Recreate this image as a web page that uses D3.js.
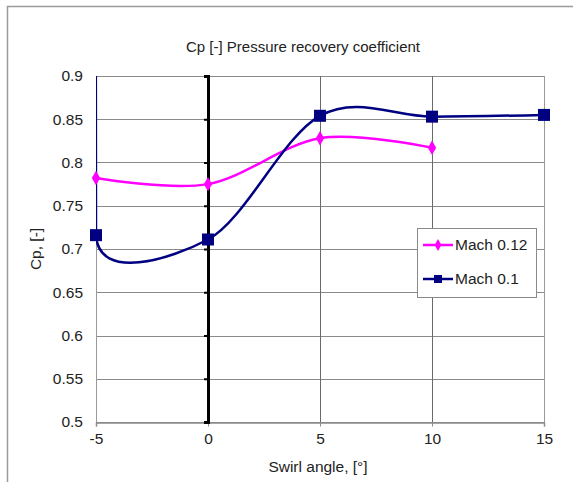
<!DOCTYPE html>
<html>
<head>
<meta charset="utf-8">
<script src="https://cdn.jsdelivr.net/npm/d3@7"></script>
<style>
  html, body { margin: 0; padding: 0; background: #fff; }
  svg { display: block; font-family: "Liberation Sans", Arial, sans-serif; }
</style>
</head>
<body>
<svg id="chart" width="573" height="482"></svg>
<script>
// Swirl angle (degrees) and pressure recovery coefficient per Mach number
const anglesM012 = [-5, 0, 5, 10];
const cpM012 = [0.782, 0.775, 0.828, 0.817];
// The Mach 0.1 run starts with an off-scale reading at -5 deg (above the axis range)
const anglesM010 = [-5, -5, 0, 5, 10, 15];
const cpM010 = [3.0, 0.716, 0.711, 0.854, 0.853, 0.855];
const xTicks = [-5, 0, 5, 10, 15];
const yTicks = [0.5, 0.55, 0.6, 0.65, 0.7, 0.75, 0.8, 0.85, 0.9];
const seriesNames = ["Mach 0.12", "Mach 0.1"];

const svg = d3.select("#chart");
const W = 573, H = 482;
const m = { left: 96, right: 544, top: 76, bottom: 422 };
const FS = 15.5;

// Spreadsheet-style smoothing: Bezier segments whose tangents follow the
// neighbouring points, shortened next to short segments to limit overshoot.
function SmoothCurve(context) { this._context = context; }
SmoothCurve.prototype = {
  areaStart() {}, areaEnd() {},
  lineStart() { this._pts = []; },
  point(x, y) { this._pts.push([+x, +y]); },
  lineEnd() {
    const p = this._pts, n = p.length, c = this._context;
    if (!n) return;
    c.moveTo(p[0][0], p[0][1]);
    if (n === 1) return;
    const dist = (a, b) => Math.hypot(a[0] - b[0], a[1] - b[1]);
    const tan = p.map((pt, i) => {
      if (i === 0 || i === n - 1) return [0, 0];
      const a = p[i - 1], b = p[i + 1];
      const dab = dist(a, b);
      if (dab === 0) return [0, 0];
      const f = Math.min(1 / 6, Math.min(dist(a, pt), dist(pt, b)) / (2.4 * dab));
      return [(b[0] - a[0]) * f, (b[1] - a[1]) * f];
    });
    for (let i = 0; i < n - 1; i++) {
      const a = p[i], b = p[i + 1];
      c.bezierCurveTo(a[0] + tan[i][0], a[1] + tan[i][1],
                      b[0] - tan[i + 1][0], b[1] - tan[i + 1][1], b[0], b[1]);
    }
  }
};
const smoothCurve = ctx => new SmoothCurve(ctx);

// Outer chart frame (only left and top edges fall inside the window)
svg.append("rect").attr("x", 7.5).attr("y", 6.5).attr("width", W).attr("height", H)
  .attr("fill", "#fff").attr("stroke", "#9a9a9a").attr("stroke-width", 1.5);

const x = d3.scaleLinear().domain([-5, 15]).range([m.left, m.right]);
const y = d3.scaleLinear().domain([0.5, 0.9]).range([m.bottom, m.top]);

svg.append("clipPath").attr("id", "plot-clip").append("rect")
  .attr("x", m.left).attr("y", m.top).attr("width", m.right - m.left).attr("height", m.bottom - m.top);

// Gridlines
const grid = svg.append("g");
grid.selectAll(".hg").data(yTicks).join("line")
  .attr("x1", m.left).attr("x2", m.right)
  .attr("y1", d => Math.round(y(d)) + 0.5).attr("y2", d => Math.round(y(d)) + 0.5)
  .attr("stroke", "#8a8a8a").attr("stroke-width", 1);
grid.selectAll(".vg").data(xTicks.filter(d => d !== 0)).join("line")
  .attr("y1", m.top).attr("y2", m.bottom)
  .attr("x1", d => Math.round(x(d)) + 0.5).attr("x2", d => Math.round(x(d)) + 0.5)
  .attr("stroke", d => (d === 15 || d === -5 ? "#9a9a9a" : "#6a6a6a")).attr("stroke-width", 1);

// X axis along the bottom
const xAxis = svg.append("g").attr("transform", `translate(0,${m.bottom + 0.5})`)
  .call(d3.axisBottom(x).tickValues(xTicks).tickSize(4).tickPadding(6).tickFormat(d => String(d)));
xAxis.select(".domain").attr("stroke", "#8a8a8a").attr("stroke-width", 1.5);
xAxis.selectAll(".tick line").attr("stroke", "#8a8a8a");
xAxis.selectAll(".tick text").attr("font-size", FS).attr("fill", "#222")
  .attr("font-family", "Liberation Sans, Arial, sans-serif");

// Value axis crossing at zero swirl
const yAxis = svg.append("g").attr("transform", `translate(${x(0)},0)`)
  .call(d3.axisLeft(y).tickValues(yTicks).tickSize(4).tickFormat(() => ""));
yAxis.select(".domain").attr("stroke", "#000").attr("stroke-width", 3);
yAxis.selectAll(".tick line").attr("stroke", "#000").attr("stroke-width", 2);

// Tick labels on the left side of the plot
svg.append("g").selectAll("text").data(yTicks).join("text")
  .attr("x", 83).attr("y", d => y(d)).attr("dy", "0.35em")
  .attr("text-anchor", "end").attr("font-size", FS).attr("fill", "#222")
  .text(d => String(d));

// Titles
svg.append("text").attr("x", 303).attr("y", 52).attr("text-anchor", "middle")
  .attr("font-size", 15).attr("fill", "#222").text("Cp [-] Pressure recovery coefficient");
svg.append("text").attr("x", 318).attr("y", 472).attr("text-anchor", "middle")
  .attr("font-size", FS).attr("fill", "#222").text("Swirl angle, [°]");
svg.append("text").attr("transform", "translate(41,249) rotate(-90)")
  .attr("text-anchor", "middle").attr("font-size", FS).attr("fill", "#222").text("Cp, [-]");

// Smoothed series lines, clipped to the plot area
const line = d3.line().x(d => x(d[0])).y(d => y(d[1])).curve(smoothCurve);
const dataM012 = anglesM012.map((a, i) => [a, cpM012[i]]);
const dataM010 = anglesM010.map((a, i) => [a, cpM010[i]]);
const magenta = "#ff00ff", navy = "#000080";
const inRange = d => d[1] >= 0.5 && d[1] <= 0.9;

const lines = svg.append("g").attr("clip-path", "url(#plot-clip)");
lines.append("path").datum(dataM012).attr("d", line)
  .attr("fill", "none").attr("stroke", magenta).attr("stroke-width", 2.5);
lines.append("path").datum(dataM010).attr("d", line)
  .attr("fill", "none").attr("stroke", navy).attr("stroke-width", 2.5);

const diamond = d3.symbol().type(d3.symbolDiamond).size(60);
svg.append("g").selectAll("path").data(dataM012.filter(inRange)).join("path")
  .attr("transform", d => `translate(${x(d[0])},${y(d[1])})`)
  .attr("d", diamond).attr("fill", magenta);
svg.append("g").selectAll("rect").data(dataM010.filter(inRange)).join("rect")
  .attr("x", d => x(d[0]) - 6).attr("y", d => y(d[1]) - 6)
  .attr("width", 12).attr("height", 12).attr("fill", navy);

// Legend
const lg = svg.append("g").attr("transform", "translate(417,228)");
lg.append("rect").attr("x", 0.5).attr("y", 0.5).attr("width", 119).attr("height", 69)
  .attr("fill", "#fff").attr("stroke", "#8a8a8a");
const entries = [
  { name: seriesNames[0], color: magenta, marker: "diamond", yy: 17 },
  { name: seriesNames[1], color: navy, marker: "square", yy: 51 }
];
entries.forEach(e => {
  lg.append("line").attr("x1", 6).attr("x2", 36).attr("y1", e.yy).attr("y2", e.yy)
    .attr("stroke", e.color).attr("stroke-width", 2.5);
  if (e.marker === "diamond") {
    lg.append("path").attr("transform", `translate(21,${e.yy})`)
      .attr("d", d3.symbol().type(d3.symbolDiamond).size(40)).attr("fill", e.color);
  } else {
    lg.append("rect").attr("x", 17).attr("y", e.yy - 4).attr("width", 8).attr("height", 8)
      .attr("fill", e.color);
  }
  lg.append("text").attr("x", 38).attr("y", e.yy).attr("dy", "0.35em")
    .attr("font-size", FS).attr("fill", "#222").text(e.name);
});
</script>
</body>
</html>
